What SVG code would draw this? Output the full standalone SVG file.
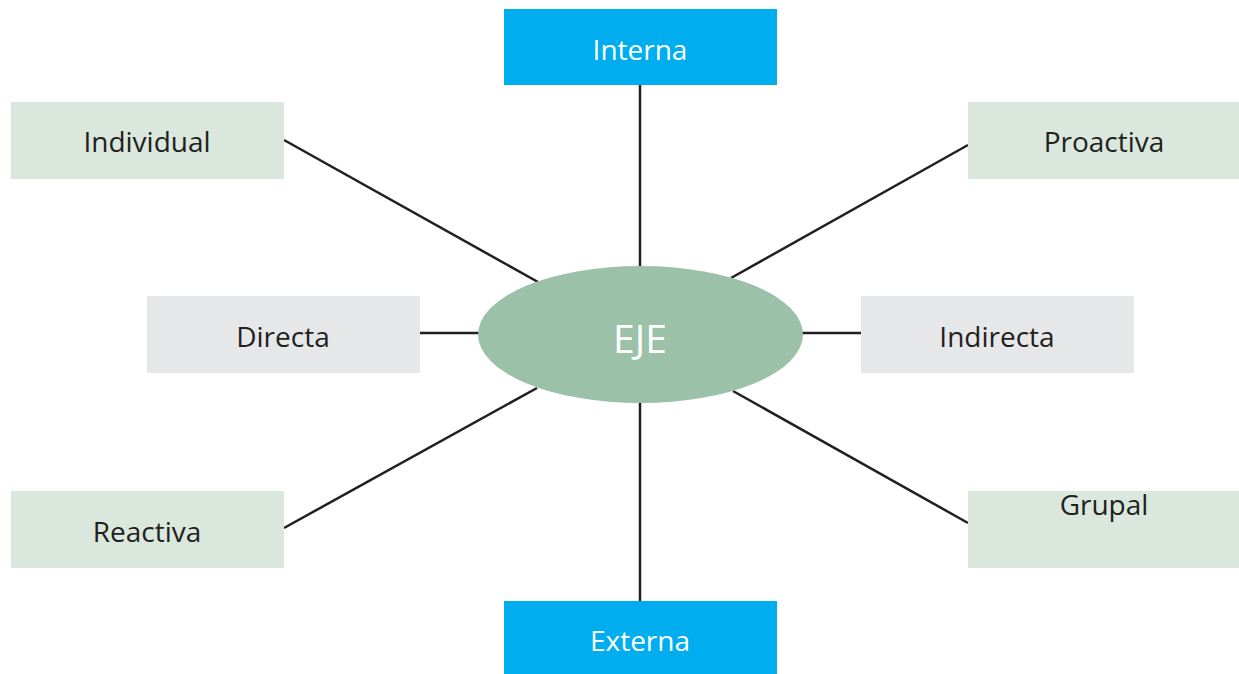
<svg xmlns="http://www.w3.org/2000/svg" width="1239" height="674" viewBox="0 0 1239 674">
<style>
.blue{fill:#00AEEF}
.green{fill:#D9E7DD}
.gray{fill:#E6E7E8}
.t{font-family:"Open Sans",Lato,sans-serif;font-size:28px;fill:#231F20;text-anchor:middle;dominant-baseline:central}
.w{fill:#FFFFFF}
.c{stroke:#231F20;stroke-width:2.5;fill:none}
</style>
<rect width="1239" height="674" fill="#FFFFFF"/>
<g id="connectors">
<line class="c" x1="640" y1="85" x2="640" y2="268"/>
<line class="c" x1="640" y1="401" x2="640" y2="601"/>
<line class="c" x1="284" y1="140" x2="538" y2="282"/>
<line class="c" x1="968" y1="145" x2="731" y2="278"/>
<line class="c" x1="420" y1="333" x2="480" y2="333"/>
<line class="c" x1="801" y1="333" x2="861" y2="333"/>
<line class="c" x1="284" y1="528" x2="537" y2="388"/>
<line class="c" x1="968" y1="523" x2="733" y2="391"/>
</g>
<g id="eje">
<ellipse cx="640.5" cy="334.5" rx="162.5" ry="68.5" fill="#9BC2A8"/>
<text class="t w" x="640" y="337" style="font-size:39px">EJE</text>
</g>
<g id="interna">
<rect class="blue" x="504" y="9" width="273" height="76"/>
<text class="t w" x="640" y="49">Interna</text>
</g>
<g id="externa">
<rect class="blue" x="504" y="601" width="273" height="73"/>
<text class="t w" x="640" y="640">Externa</text>
</g>
<g id="individual">
<rect class="green" x="11" y="102" width="273" height="77"/>
<text class="t" x="147" y="141">Individual</text>
</g>
<g id="proactiva">
<rect class="green" x="968" y="102" width="271" height="77"/>
<text class="t" x="1104" y="141">Proactiva</text>
</g>
<g id="directa">
<rect class="gray" x="147" y="296" width="273" height="77"/>
<text class="t" x="283" y="336">Directa</text>
</g>
<g id="indirecta">
<rect class="gray" x="861" y="296" width="273" height="77"/>
<text class="t" x="997" y="336">Indirecta</text>
</g>
<g id="reactiva">
<rect class="green" x="11" y="491" width="273" height="77"/>
<text class="t" x="147" y="531">Reactiva</text>
</g>
<g id="grupal">
<rect class="green" x="968" y="491" width="271" height="77"/>
<text class="t" x="1104" y="504">Grupal</text>
</g>
</svg>
